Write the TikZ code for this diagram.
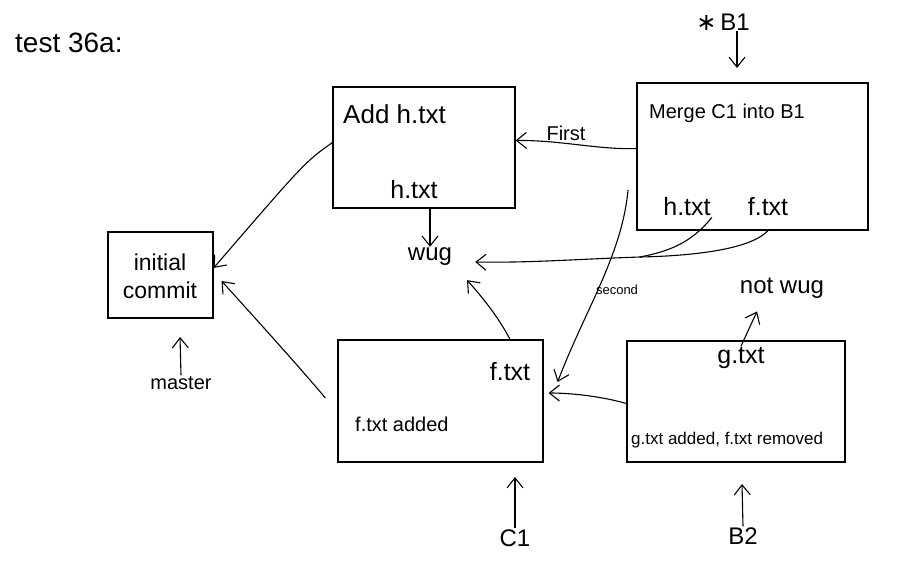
\documentclass[tikz,border=0pt]{standalone}
\usepackage{fontspec}
\setmainfont{Liberation Sans}
\newfontfamily\djv{DejaVu Sans}
\usetikzlibrary{arrows.meta}
\begin{document}
\begin{tikzpicture}[x=1pt,y=-1pt,
  commit/.style={draw, line width=1.2pt, inner sep=0pt},
  lbl/.style={inner sep=1pt, font=\fontsize{20}{24}\selectfont},
  file/.style={inner sep=1pt, font=\fontsize{25}{28}\selectfont},
  big/.style={inner sep=1pt, font=\fontsize{24}{28}\selectfont},
  mid/.style={inner sep=1pt, font=\fontsize{17}{20}\selectfont},
  small/.style={inner sep=1pt, font=\fontsize{13}{15}\selectfont},
  plain/.style={line width=1.1pt},
  conn/.style={line width=1.1pt, -{Straight Barb[length=10pt,width=16pt,line width=1.1pt]}}]
\useasboundingbox (0,0) rectangle (921,568);

% commit boxes
\node[commit, minimum width=182pt, minimum height=121pt] (add) at (424,147.5) {};
\node[commit, minimum width=105pt, minimum height=86pt] (init) at (160.5,275) {};
\node[commit, minimum width=231pt, minimum height=147pt] (merge) at (752.5,156.5) {};
\node[commit, minimum width=205pt, minimum height=122pt] (fadd) at (440.5,401) {};
\node[commit, minimum width=218pt, minimum height=121pt] (gadd) at (736,401.5) {};

% texts
\node[inner sep=1pt, font=\fontsize{28}{32}\selectfont, anchor=west] (title) at (14,43) {test 36a:};
\node[inner sep=1pt, font=\fontsize{26}{30}\selectfont, anchor=west] (addt) at (342,114) {Add h.txt};
\node[file] (addh) at (414,190) {h.txt};
\node[big, align=center, font=\fontsize{23}{28}\selectfont] (initt) at (160,276) {initial\\commit};
\node[big] (wug) at (430,257) {wug};
\node[lbl, anchor=west] (mt) at (648,113) {Merge C1 into B1};
\node[file] (mh) at (687,207) {h.txt};
\node[file] (mf) at (768,207) {f.txt};
\node[big] (b1) at (723,22) {{\djv ∗}\,B1};
\node[inner sep=1pt, font=\fontsize{20}{24}\selectfont] (first) at (566,133) {First};
\node[small] (second) at (617,290) {second};
\node[big] (notwug) at (782,288) {not wug};
\node[file] (ff) at (510,372) {f.txt};
\node[lbl, anchor=west] (fat) at (354,424) {f.txt added};
\node[file] (gg) at (741,358) {g.txt};
\node[mid, anchor=west] (gat) at (630,440) {g.txt added, f.txt removed};
\node[lbl] (master) at (181,383) {master};
\node[big] (c1) at (515,538) {C1};
\node[big] (b2) at (743,536) {B2};

% free ends
\coordinate (mtip) at (180,337);
\coordinate (c1tip) at (515,477);
\coordinate (b2tip) at (742,484);
\coordinate (b1tip) at (737,68);
\coordinate (s0) at (628,190);
\coordinate (j) at (640,257);

% parent links
\draw[conn] ([yshift=5pt]add.west) .. controls (305,162) .. ([yshift=7pt]init.east);
\draw[conn] ([xshift=-12pt,yshift=3pt]fadd.west) .. controls (295,362) and (255,318) .. ([xshift=8pt,yshift=-6pt]init.east);
\draw[conn] ([yshift=8pt]merge.west) .. controls (600,150) and (560,140) .. ([yshift=7pt]add.east);
\draw[conn] (s0) .. controls (622,255) and (585,310) .. ([xshift=14pt,yshift=19pt]fadd.east);
\draw[conn] ([yshift=-2pt]gadd.west) .. controls (600,396) and (570,393) .. ([xshift=5pt,yshift=8pt]fadd.east);

% file contents
\draw[conn] (add.south -| wug) -- (wug.north);
\draw[conn] (fadd.north -| ff) .. controls (500,320) and (485,300) .. ([xshift=37pt,yshift=-13pt]wug.south);
\draw[plain] (mh.south east) .. controls (690,245) and (665,252) .. (j);
\draw[plain] (mf.south |- merge.south) .. controls (750,250) and (690,256) .. (j);
\draw[conn] (j) .. controls (580,259) and (530,263) .. ([xshift=22pt,yshift=-5pt]wug.east);
\draw[conn] (gg.north) -- ([xshift=-25pt,yshift=-12pt]notwug.south);

% branch pointers
\draw[conn] (master.north) -- (mtip);
\draw[conn] (c1.north) -- (c1tip);
\draw[conn] (b2.north) -- (b2tip);
\draw[conn] (b1.south -| b1tip) -- (b1tip);
\end{tikzpicture}
\end{document}
